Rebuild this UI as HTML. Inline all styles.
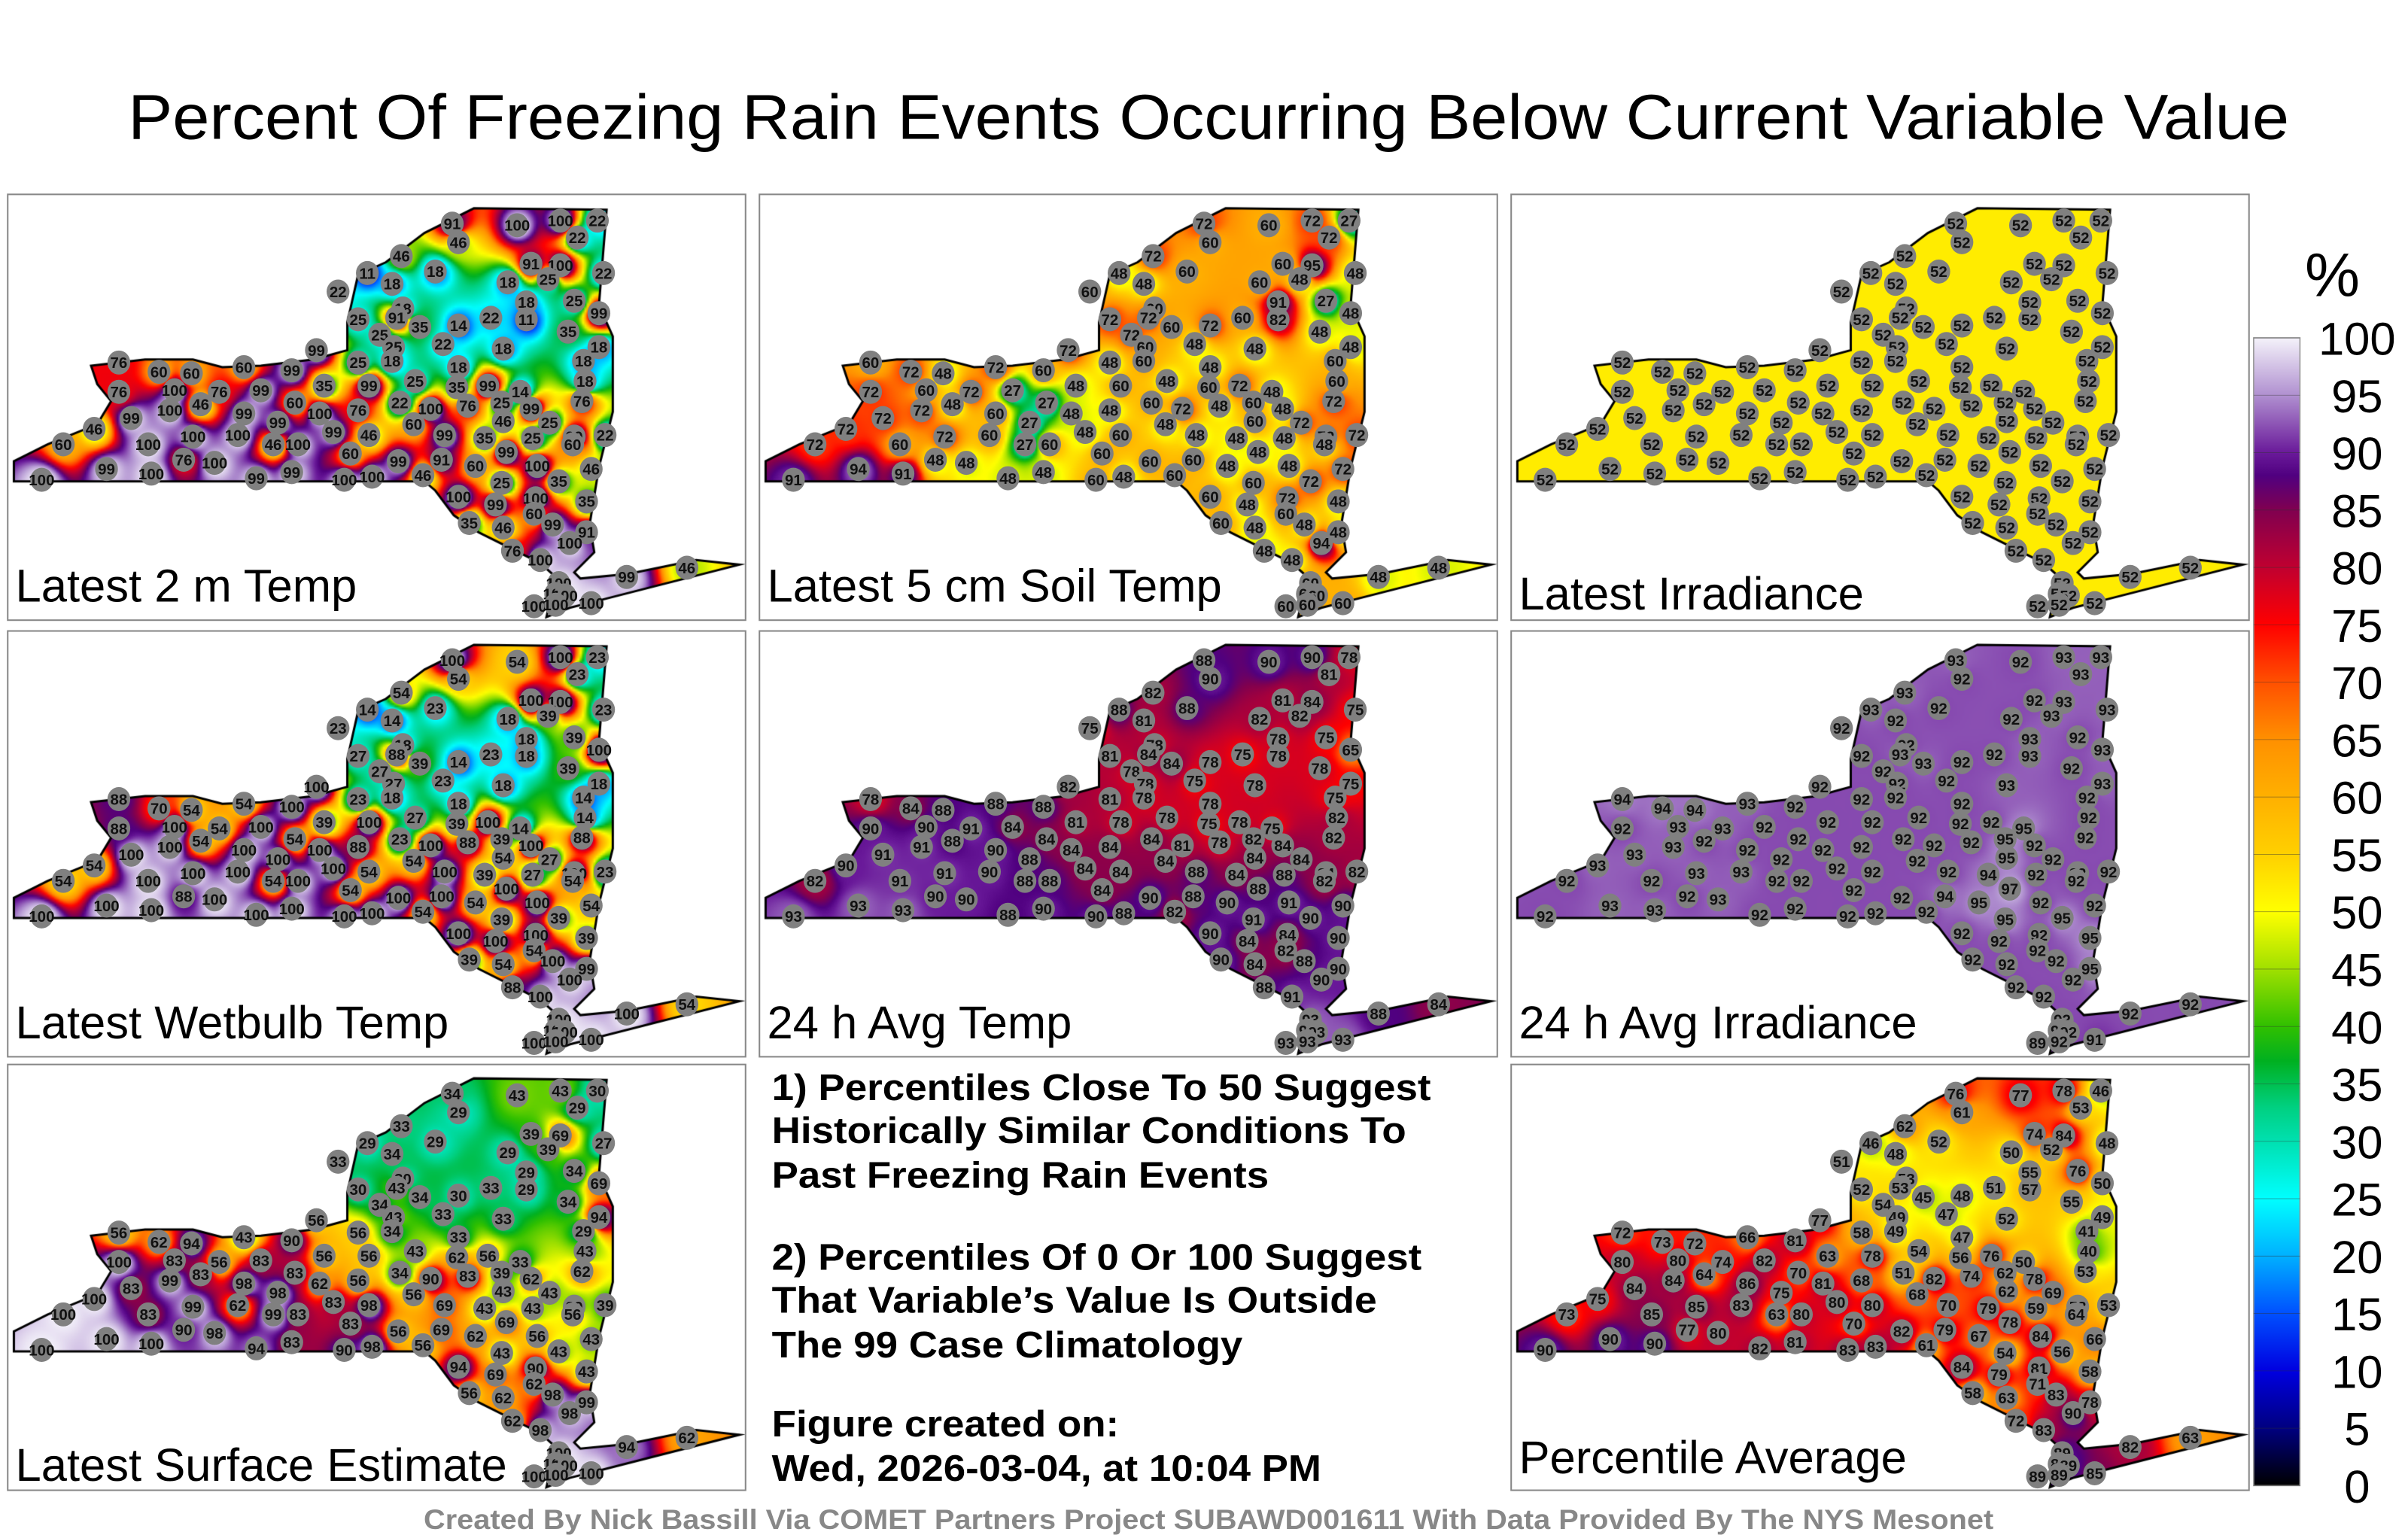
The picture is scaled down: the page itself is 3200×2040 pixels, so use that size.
<!DOCTYPE html>
<html><head><meta charset="utf-8">
<style>
html,body{margin:0;padding:0;background:#fff;}
#wrap{position:relative;width:3200px;height:2040px;overflow:hidden;}
#field{position:absolute;left:0;top:0;}
#ov{position:absolute;left:0;top:0;}
</style></head>
<body>
<div id="wrap">
<canvas id="field" width="3200" height="2040"></canvas>
<svg id="ov" width="3200" height="2040" viewBox="0 0 1560 995" preserveAspectRatio="none">
<text x="783" y="90" text-anchor="middle" font-family="Liberation Sans, sans-serif" font-size="41" textLength="1400" lengthAdjust="spacingAndGlyphs">Percent Of Freezing Rain Events Occurring Below Current Variable Value</text>
<g id="panels"></g>
<g font-family="Liberation Sans, sans-serif" font-weight="bold" font-size="24">
<text x="500" y="713" textLength="427" lengthAdjust="spacingAndGlyphs">1) Percentiles Close To 50 Suggest</text>
<text x="500" y="741" textLength="411" lengthAdjust="spacingAndGlyphs">Historically Similar Conditions To</text>
<text x="500" y="770" textLength="322" lengthAdjust="spacingAndGlyphs">Past Freezing Rain Events</text>
<text x="500" y="823" textLength="421" lengthAdjust="spacingAndGlyphs">2) Percentiles Of 0 Or 100 Suggest</text>
<text x="500" y="851" textLength="392" lengthAdjust="spacingAndGlyphs">That Variable’s Value Is Outside</text>
<text x="500" y="880" textLength="305" lengthAdjust="spacingAndGlyphs">The 99 Case Climatology</text>
<text x="500" y="931" textLength="225" lengthAdjust="spacingAndGlyphs">Figure created on:</text>
<text x="500" y="960" textLength="356" lengthAdjust="spacingAndGlyphs">Wed, 2026-03-04, at 10:04 PM</text>
</g>
<text x="783" y="991" text-anchor="middle" font-family="Liberation Sans, sans-serif" font-weight="bold" font-size="18" fill="#888" textLength="1017" lengthAdjust="spacingAndGlyphs">Created By Nick Bassill Via COMET Partners Project SUBAWD001611 With Data Provided By The NYS Mesonet</text>
<text x="1511" y="192" text-anchor="middle" font-family="Liberation Sans, sans-serif" font-size="40">%</text>
<defs><linearGradient id="cbg" x1="0" y1="1" x2="0" y2="0"></linearGradient></defs>
<rect x="1460" y="219" width="30" height="744" fill="url(#cbg)" stroke="#999" stroke-width="0.8"/>
<g id="cbt"></g>
</svg>
</div>
<script>
// station locations (panel-local map coords)
const stationX=[288,330,358,382,369,292,255,277,339,358,386,233,249,324,350,214,367,383,256,336,227,252,267,292,313,336,363,241,250,282,321,383,373,200,227,249,292,374,72,98,119,153,184,72,108,137,164,205,234,264,291,311,332,372,125,105,186,227,254,274,298,320,339,80,153,175,202,263,321,351,56,211,234,283,309,340,367,387,36,91,120,149,172,188,222,323,366,114,134,253,281,303,343,378,22,64,93,161,184,218,236,269,320,357,292,316,342,375,341,299,321,353,375,364,327,345,357,355,361,341,355,378,401,440];
const stationY=[19,20,17,17,28,31,40,50,45,46,51,51,58,57,55,63,69,77,74,70,81,80,86,85,80,81,89,91,99,97,100,99,108,101,109,108,112,121,109,115,116,112,114,128,127,128,127,124,124,121,125,124,128,134,136,140,135,140,135,139,137,135,139,145,142,148,142,149,147,148,152,154,156,156,158,158,157,156,162,162,157,156,162,162,168,167,162,172,174,173,172,176,176,178,185,178,181,184,180,185,183,182,187,186,196,201,197,199,207,213,216,214,219,226,231,237,252,259,260,267,266,265,248,242];
const vals2mTemp=[91,100,100,22,22,46,46,18,91,100,22,11,18,18,25,22,25,99,18,18,25,91,35,14,22,11,35,25,25,22,18,18,18,99,25,18,18,18,76,60,60,60,99,76,100,76,99,35,99,25,35,99,14,76,46,100,60,76,22,100,76,25,99,99,99,99,100,60,46,25,46,99,46,99,35,25,99,22,60,100,100,100,46,100,60,99,60,76,100,99,91,60,100,46,100,99,100,99,99,100,100,46,25,35,100,99,100,35,60,35,46,99,91,100,76,100,100,100,100,100,100,100,99,46];
const valsSoilTemp=[72,60,72,27,72,60,72,60,60,95,48,48,48,60,48,60,27,48,60,91,72,72,60,72,60,82,48,72,60,48,48,48,60,72,48,60,48,60,60,72,48,72,60,72,60,72,27,48,60,48,60,72,48,72,48,72,27,48,60,72,48,60,48,72,60,27,48,48,60,72,72,48,60,48,48,48,72,72,72,60,72,60,27,60,60,48,48,48,48,60,60,48,48,72,91,94,91,48,48,60,48,60,60,72,60,48,72,48,60,60,48,48,48,94,48,48,60,60,60,60,60,60,48,48];
const valsIrradiance=[52,52,52,52,52,52,52,52,52,52,52,52,52,52,52,52,52,52,52,52,52,52,52,52,52,52,52,52,52,52,52,52,52,52,52,52,52,52,52,52,52,52,52,52,52,52,52,52,52,52,52,52,52,52,52,52,52,52,52,52,52,52,52,52,52,52,52,52,52,52,52,52,52,52,52,52,52,52,52,52,52,52,52,52,52,52,52,52,52,52,52,52,52,52,52,52,52,52,52,52,52,52,52,52,52,52,52,52,52,52,52,52,52,52,52,52,52,52,52,52,52,52,52,52];
const valsWetbulb=[100,54,100,23,23,54,54,23,100,100,23,14,14,18,39,23,39,100,18,18,27,88,39,14,23,18,39,27,27,23,18,18,14,100,23,18,18,14,88,70,54,54,100,88,100,54,100,39,100,27,39,100,14,88,54,100,54,88,23,100,88,39,100,100,100,100,100,54,54,27,54,100,54,100,39,27,100,23,54,100,100,100,54,100,54,100,54,88,100,100,100,54,100,54,100,100,100,100,100,100,100,54,39,39,100,100,100,39,54,39,54,100,99,100,88,100,100,100,100,100,100,100,100,54];
const vals24hTemp=[88,90,90,78,81,90,82,88,81,84,75,88,81,82,82,75,75,65,78,78,81,84,84,78,75,78,78,78,78,75,78,75,75,82,81,78,78,82,78,84,88,88,88,90,90,91,84,81,78,78,75,78,75,82,88,91,84,84,84,81,78,82,84,91,90,88,84,84,84,84,90,84,84,88,84,88,84,82,82,91,91,90,88,88,84,88,82,90,90,90,88,90,91,90,93,93,93,88,90,90,88,82,91,90,90,84,84,90,82,90,84,88,90,90,88,91,93,93,93,93,93,93,88,84];
const vals24hIrr=[93,92,93,93,93,92,93,92,92,93,93,93,92,92,93,92,92,93,92,93,92,93,93,92,92,93,92,92,92,92,93,93,92,92,92,92,92,92,94,94,94,93,92,92,93,93,92,92,92,92,92,92,95,92,92,93,92,92,92,92,92,95,92,93,92,92,92,92,95,92,93,92,92,92,94,92,92,92,92,92,93,93,92,92,92,97,92,92,93,92,94,95,92,92,92,93,93,92,92,92,92,92,95,95,92,92,92,95,92,92,92,92,95,92,92,92,92,92,92,89,92,91,92,92];
const valsSurface=[34,43,43,30,29,29,33,29,39,69,27,29,34,29,39,33,34,69,30,29,30,43,34,30,33,29,34,34,43,33,33,94,29,56,56,34,33,43,56,62,94,43,90,100,83,56,83,56,56,43,62,56,33,62,83,99,83,56,34,90,83,39,62,83,98,98,62,56,43,43,100,83,98,69,43,43,39,39,100,83,99,62,99,83,83,69,56,90,98,56,69,62,56,43,100,100,100,94,83,90,98,56,43,43,94,69,90,43,62,56,62,98,99,98,62,98,100,100,100,100,100,100,94,62];
const valsAverage=[76,77,78,46,53,61,62,52,74,84,48,46,48,50,52,51,76,50,53,55,52,53,45,48,51,57,55,54,49,47,52,49,41,77,58,49,47,40,72,73,72,66,81,80,80,74,82,63,78,54,56,76,50,53,64,84,70,68,51,82,74,62,78,84,86,75,81,68,62,69,75,80,80,70,79,59,58,53,73,85,85,83,63,80,70,78,64,77,80,82,79,67,84,66,90,90,90,82,81,83,83,61,54,56,84,79,81,58,71,58,63,83,78,90,72,83,89,89,89,89,89,85,82,63];

// colormap stops [value, hex]
const cmapValues=[0,5,10,15,20,25,30,33,37,40,45,50,55,60,65,70,75,80,85,88,90,95,100];
const cmapColors=["#000000","#000080","#0000e0","#0050ff","#00b0ff","#00ffff","#00e0b0","#00d080","#00b020","#30c000","#a0e000","#ffff00","#ffd000","#ffb000","#ff9000","#ff5000","#ff0000","#c00030","#800050","#500080","#6a1a9a","#b090d0","#f4f2fa"];
const cbTicks=[0,5,10,15,20,25,30,35,40,45,50,55,60,65,70,75,80,85,90,95,100];

const panelDefs=[
 {x:5,y:126,label:"Latest 2 m Temp",ly:390,vals:vals2mTemp},
 {x:492,y:126,label:"Latest 5 cm Soil Temp",ly:390,vals:valsSoilTemp},
 {x:979,y:126,label:"Latest Irradiance",ly:395,vals:valsIrradiance},
 {x:5,y:409,label:"Latest Wetbulb Temp",ly:673,vals:valsWetbulb},
 {x:492,y:409,label:"24 h Avg Temp",ly:673,vals:vals24hTemp},
 {x:979,y:409,label:"24 h Avg Irradiance",ly:673,vals:vals24hIrr},
 {x:5,y:690,label:"Latest Surface Estimate",ly:960,vals:valsSurface},
 {x:979,y:690,label:"Percentile Average",ly:955,vals:valsAverage}
];
const nyPts=[[4,173],[4,186],[270,186],[277,192],[289,208],[305,219],[327,230],[345,239],[355,248],[349,274],[364,268],[380,264],[474,240],[446,237],[402,246],[371,249],[367,245],[380,232],[377,214],[383,177],[392,141],[392,92],[383,72],[388,10],[302,9],[270,25],[245,44],[227,52],[220,83],[220,101],[198,107],[164,111],[139,112],[120,107],[89,107],[54,111],[58,123],[67,134],[58,149],[26,162]];
const PW=478,PH=276;

function hex(h){return [parseInt(h.substr(1,2),16),parseInt(h.substr(3,2),16),parseInt(h.substr(5,2),16)];}
const cmapRGB=cmapColors.map(hex);
function colorOf(v){
  if(v<=cmapValues[0])return cmapRGB[0];
  for(let i=1;i<cmapValues.length;i++){
    if(v<=cmapValues[i]){const t=(v-cmapValues[i-1])/(cmapValues[i]-cmapValues[i-1]);const a=cmapRGB[i-1],b=cmapRGB[i];return [a[0]+(b[0]-a[0])*t,a[1]+(b[1]-a[1])*t,a[2]+(b[2]-a[2])*t];}
  }
  return cmapRGB[cmapRGB.length-1];
}

const cv=document.getElementById('field');const ctx=cv.getContext('2d');
const SX=3200/1560,SY=2040/995;
const STEP=1.5,GW=Math.ceil(PW/STEP),GH=Math.ceil(PH/STEP);
function statePath(ox,oy){const p=new Path2D();nyPts.forEach((q,i)=>{const X=(ox+q[0])*SX,Y=(oy+q[1])*SY;i?p.lineTo(X,Y):p.moveTo(X,Y);});p.closePath();return p;}
panelDefs.forEach(pd=>{
  const off=document.createElement('canvas');off.width=GW;off.height=GH;
  const oc=off.getContext('2d');const img=oc.createImageData(GW,GH);
  for(let j=0;j<GH;j++){for(let i=0;i<GW;i++){
    const x=i*STEP,y=j*STEP;let ws=0,vs=0,hit=-1;
    for(let k=0;k<stationX.length;k++){const dx=x-stationX[k],dy=y-stationY[k];const d2=dx*dx+dy*dy;if(d2<0.01){hit=k;break;}const w=1/(d2*Math.sqrt(d2));ws+=w;vs+=w*pd.vals[k];}
    const v=hit>=0?pd.vals[hit]:vs/ws;const c=colorOf(v);const o=(j*GW+i)*4;
    img.data[o]=c[0];img.data[o+1]=c[1];img.data[o+2]=c[2];img.data[o+3]=255;
  }}
  oc.putImageData(img,0,0);
  const path=statePath(pd.x,pd.y);
  ctx.save();ctx.clip(path);ctx.imageSmoothingEnabled=true;
  ctx.drawImage(off,pd.x*SX,pd.y*SY,GW*STEP*SX,GH*STEP*SY);ctx.restore();
  ctx.lineWidth=3;ctx.strokeStyle='#000';ctx.stroke(path);
});

const NS='http://www.w3.org/2000/svg';
const pg=document.getElementById('panels');
function mk(tag,attrs,parent){const e=document.createElementNS(NS,tag);for(const k in attrs)e.setAttribute(k,attrs[k]);parent.appendChild(e);return e;}
panelDefs.forEach((pd,pi)=>{
  const g=mk('g',{transform:'translate('+pd.x+','+pd.y+')'},pg);
  
  
  const fr=mk('rect',{x:0,y:0,width:PW,height:PH,fill:'none',stroke:'#888','stroke-width':1},g);
  
  
  for(let k=0;k<stationX.length;k++){
    const sg=mk('g',{},g);
    
    
    mk('ellipse',{cx:stationX[k],cy:stationY[k],rx:7.4,ry:7.8,fill:'#808080'},sg);
    const t=mk('text',{x:stationX[k],y:stationY[k]+3.6,'text-anchor':'middle','font-family':'Liberation Sans, sans-serif','font-weight':'bold','font-size':10,fill:'#111'},sg);
    t.textContent=pd.vals[k];
  }
  const lb=mk('text',{x:5,y:pd.ly-pd.y,'font-family':'Liberation Sans, sans-serif','font-size':30},g);
  
  
  lb.textContent=pd.label;
});
const grad=document.getElementById('cbg');
cmapValues.forEach((v,i)=>{mk('stop',{offset:(v/100),'stop-color':cmapColors[i]},grad);});
const cbt=document.getElementById('cbt');
const cbY=v=>963-(v/100)*744;
cbTicks.forEach(v=>{
  const l=mk('line',{x1:1460,x2:1490,y1:cbY(v),y2:cbY(v),stroke:'#333','stroke-width':0.4,opacity:0.5},cbt);
  
  
  const t=mk('text',{x:1527,y:cbY(v)+11,'text-anchor':'middle','font-family':'Liberation Sans, sans-serif','font-size':30},cbt);
  
  
  t.textContent=v;
});
</script>
</body></html>
